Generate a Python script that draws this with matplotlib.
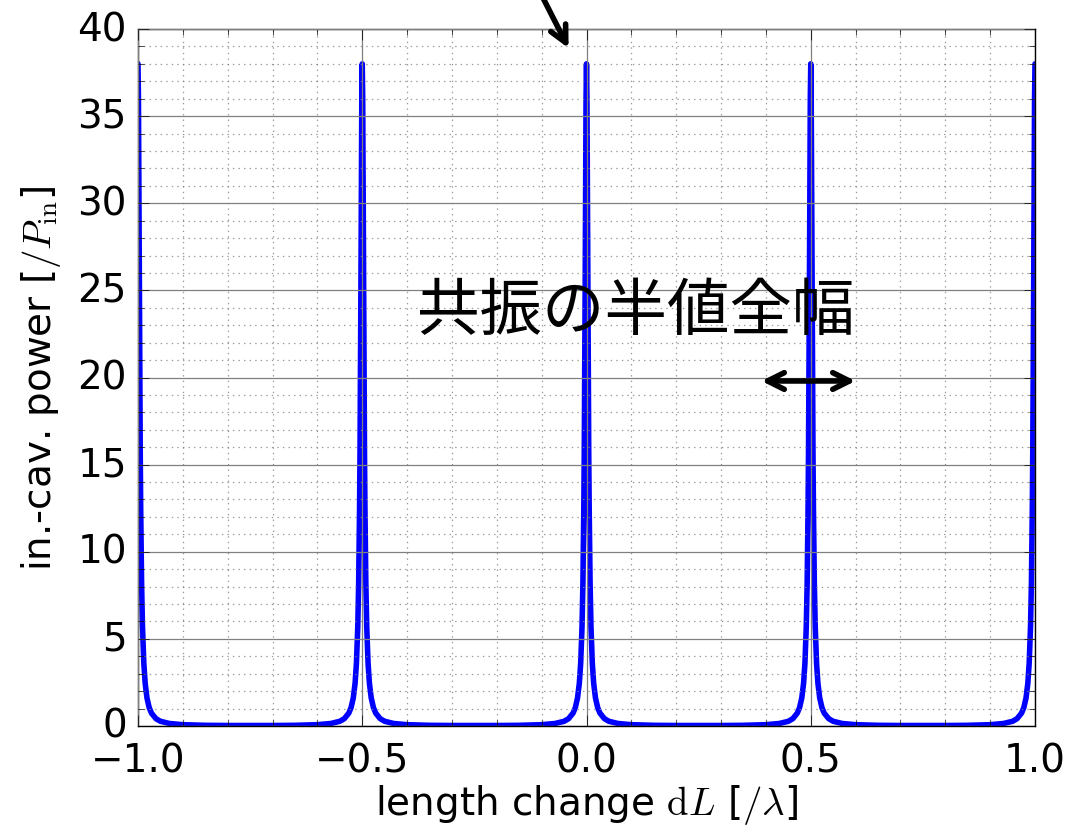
"""In-cavity power of a Fabry-Perot cavity vs. mirror displacement."""
import numpy as np
import matplotlib.pyplot as plt
from matplotlib.ticker import MultipleLocator

plt.style.use("classic")
plt.rcParams["font.family"] = ["DejaVu Sans"]
plt.rcParams["mathtext.fontset"] = "cm"

# resonance positions [/lambda] inside the scanned range
resonances = [-1.0, -0.5, 0.0, 0.5, 1.0]

# single-resonance profile: detuning from resonance [/lambda] and power [/P_in]
detuning = [0.000, 0.001, 0.002, 0.003, 0.004, 0.005, 0.006, 0.008, 0.010,
            0.013, 0.016, 0.020, 0.025, 0.030, 0.040, 0.050, 0.070, 0.100,
            0.150, 0.200, 0.250]
power = [38.0, 36.0, 31.0, 25.1, 19.9, 15.7, 12.5, 8.19, 5.69,
         3.59, 2.45, 1.61, 1.05, 0.74, 0.42, 0.27, 0.145, 0.076,
         0.040, 0.029, 0.026]

fwhm_text = "共振の半値全幅"


def build_scan():
    d = np.asarray(detuning)
    p = np.asarray(power)
    xs, ys = [], []
    for c in resonances:
        xs.append(c - d[::-1]); ys.append(p[::-1])
        xs.append(c + d[1:]); ys.append(p[1:])
    x = np.concatenate(xs)
    y = np.concatenate(ys)
    keep = (x >= -1.0) & (x <= 1.0)
    x, y = x[keep], y[keep]
    order = np.argsort(x, kind="stable")
    return x[order], y[order]


x, y = build_scan()

fig = plt.figure(figsize=(10.7, 8.29), dpi=100, facecolor="white")
ax = fig.add_axes([138 / 1070, 102 / 829, 897 / 1070, 697 / 829])
ax.plot(x, y, color="blue", lw=4, solid_capstyle="round")

ax.set_xlim(-1, 1)
ax.set_ylim(0, 40)
ax.xaxis.set_major_locator(MultipleLocator(0.5))
ax.xaxis.set_minor_locator(MultipleLocator(0.1))
ax.yaxis.set_major_locator(MultipleLocator(5))
ax.yaxis.set_minor_locator(MultipleLocator(1))
ax.grid(which="major", color="gray", linestyle="-", lw=0.9)
ax.grid(which="minor", color="gray", linestyle=":", lw=0.9, alpha=0.8)
ax.tick_params(labelsize=28)
ax.tick_params(axis="x", pad=11)
ax.tick_params(axis="y", pad=8)
ax.tick_params(which="major", length=8)
ax.tick_params(which="minor", length=4)

ax.set_xlabel(r"length change $\mathrm{d}L$ [$/\lambda$]", fontsize=28,
              labelpad=2)
ax.set_ylabel(r"in.-cav. power [$/P_\mathrm{in}$]", fontsize=28, labelpad=10)

ax.text(0.11, 23.8, fwhm_text, fontsize=45, ha="center", va="center",
        family=["Noto Sans CJK JP", "DejaVu Sans"])
ax.annotate("", xy=(0.39, 19.8), xytext=(0.6, 19.8),
            arrowprops=dict(arrowstyle="<->", lw=4, color="black",
                            mutation_scale=30, shrinkA=0, shrinkB=0))
ax.annotate("", xy=(-0.04, 38.9), xytext=(-0.2, 47.0),
            annotation_clip=False,
            arrowprops=dict(arrowstyle="->", lw=4, color="black",
                            mutation_scale=30, shrinkA=0, shrinkB=0))

fig.savefig("out.png", dpi=100, facecolor="white")
